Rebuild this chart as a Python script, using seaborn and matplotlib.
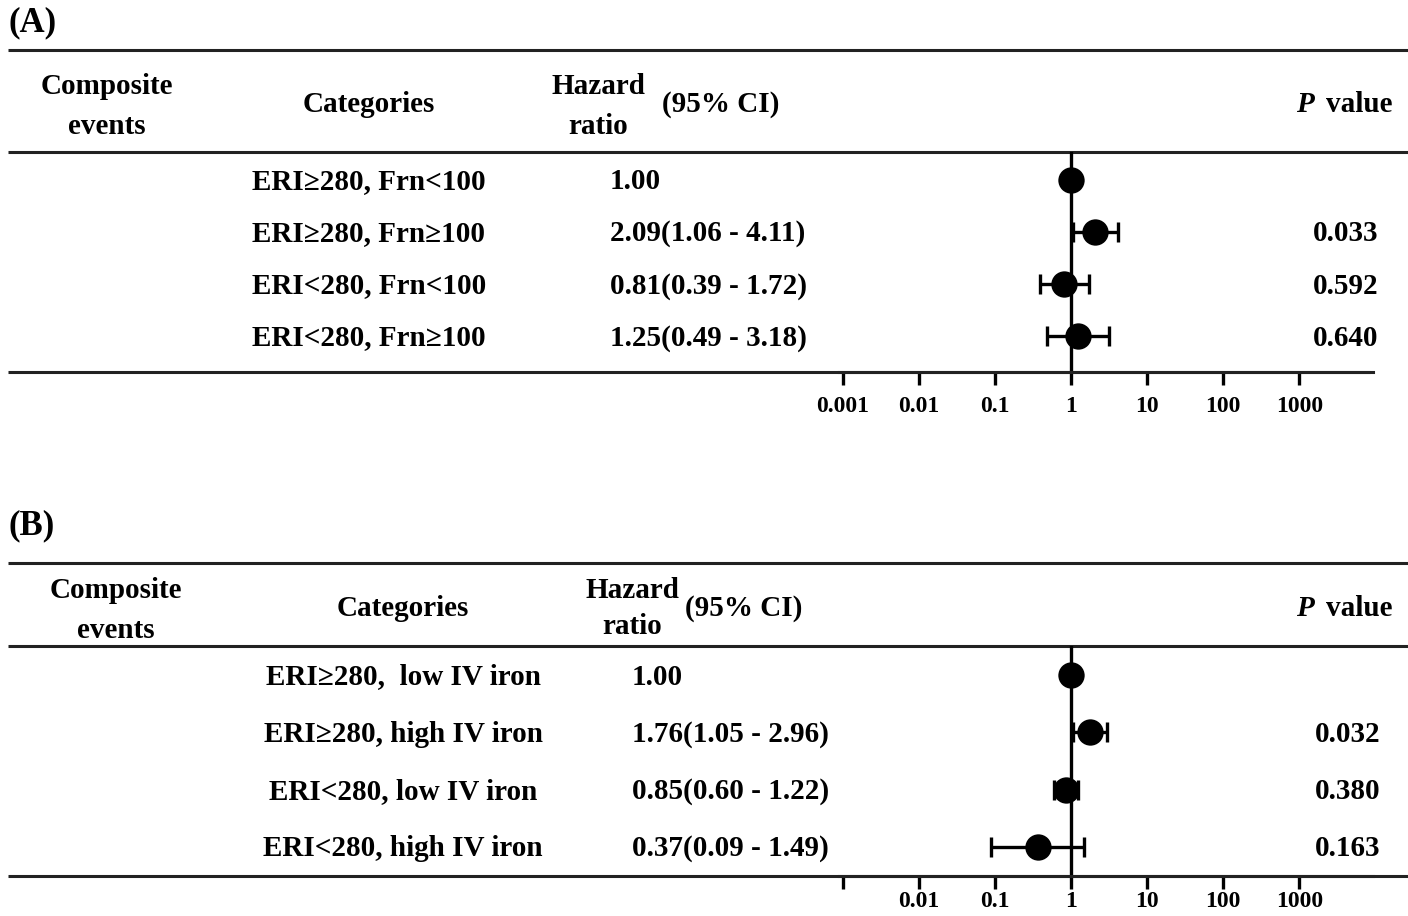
import numpy as np
import pandas as pd
import matplotlib
matplotlib.use("Agg")
import matplotlib.pyplot as plt
import matplotlib.transforms as mtransforms
import seaborn as sns

# ---------------- data ----------------
a_categories = ["ERI\u2265280, Frn<100", "ERI\u2265280, Frn\u2265100",
                "ERI<280, Frn<100", "ERI<280, Frn\u2265100"]
a_hr = [1.00, 2.09, 0.81, 1.25]
a_lo = [np.nan, 1.06, 0.39, 0.49]
a_hi = [np.nan, 4.11, 1.72, 3.18]
a_p = ["", "0.033", "0.592", "0.640"]

b_categories = ["ERI\u2265280,  low IV iron", "ERI\u2265280, high IV iron",
                "ERI<280, low IV iron", "ERI<280, high IV iron"]
b_hr = [1.00, 1.76, 0.85, 0.37]
b_lo = [np.nan, 1.05, 0.60, 0.09]
b_hi = [np.nan, 2.96, 1.22, 1.49]
b_p = ["", "0.032", "0.380", "0.163"]

tick_values = [0.001, 0.01, 0.1, 1, 10, 100, 1000]
a_tick_labels = ["0.001", "0.01", "0.1", "1", "10", "100", "1000"]
b_tick_labels = ["", "0.01", "0.1", "1", "10", "100", "1000"]

# ---------------- style ----------------
sns.set_theme(style="white")
plt.rcParams["font.family"] = ["Liberation Serif", "DejaVu Serif"]
plt.rcParams["font.weight"] = "bold"
plt.rcParams["text.color"] = "black"
plt.rcParams["xtick.color"] = "black"
plt.rcParams["axes.labelcolor"] = "black"

W, H = 1408, 916
fig = plt.figure(figsize=(W / 100, H / 100), dpi=100)
fig.patch.set_facecolor("white")

bg = fig.add_axes([0, 0, 1, 1])
bg.set_xlim(0, W)
bg.set_ylim(H, 0)
bg.axis("off")

FS = 21
LINE_C = "#222222"
LW = 2.2
DY = 2  # small downward nudge of text (px)


def px_axes(l, t, r, b):
    return fig.add_axes([l / W, 1 - b / H, (r - l) / W, (b - t) / H])


def panel(label, label_y, top_line, head_line, bottom_line, bottom_right,
          rows_top, rows_bottom, ylim, head, cat_x, hr_x, p_x,
          cats, hr, lo, hi, pv, tick_labels, tick_pad):
    bg.text(8, label_y, label, fontsize=25, fontweight="bold",
            ha="left", va="center")
    for yy, xr in [(top_line, W), (head_line, W), (bottom_line, bottom_right)]:
        bg.plot([8, xr], [yy, yy], color=LINE_C, lw=LW, solid_capstyle="butt")
    (cx, cy1, cy2), (catx, caty), (hx, hy1, hy2), (cix, ciy), py = head
    bg.text(cx, cy1 + DY, "Composite", fontsize=FS, ha="center", va="center")
    bg.text(cx, cy2 + DY, "events", fontsize=FS, ha="center", va="center")
    bg.text(catx, caty + DY, "Categories", fontsize=FS, ha="center", va="center")
    bg.text(hx, hy1 + DY, "Hazard", fontsize=FS, ha="center", va="center")
    bg.text(hx, hy2 + DY, "ratio", fontsize=FS, ha="center", va="center")
    bg.text(cix, ciy + DY, "(95% CI)", fontsize=FS, ha="left", va="center")
    bg.text(1314, py + DY, "P", fontsize=FS, ha="right", va="center",
            fontstyle="italic")
    bg.text(1393, py + DY, "value", fontsize=FS, ha="right", va="center")

    ax = px_axes(839, rows_top, 1373, rows_bottom)
    ax.set_facecolor("none")
    ax.set_xscale("log")
    ax.set_xlim(10 ** -3.05, 10 ** 3.97)
    ax.set_ylim(*ylim)

    df = pd.DataFrame({"row": np.arange(len(cats)), "hr": hr,
                       "lo": lo, "hi": hi})
    ax.axvline(1, color="black", lw=2.4, zorder=1)
    ci = df.dropna()
    ax.errorbar(ci["hr"], ci["row"],
                xerr=[ci["hr"] - ci["lo"], ci["hi"] - ci["hr"]],
                fmt="none", ecolor="black", elinewidth=2.4, capsize=7,
                capthick=2.4, zorder=2)
    sns.scatterplot(data=df, x="hr", y="row", ax=ax, color="black",
                    s=360, edgecolor="black", linewidth=0, zorder=3,
                    legend=False)

    for side in ["top", "right", "left"]:
        ax.spines[side].set_visible(False)
    ax.spines["bottom"].set_color(LINE_C)
    ax.spines["bottom"].set_linewidth(LW)
    ax.set_yticks([])
    ax.set_xticks(tick_values)
    ax.set_xticklabels(tick_labels)
    ax.minorticks_off()
    ax.tick_params(axis="x", direction="out", length=9, width=2.4,
                   color="black", labelcolor="black", labelsize=17,
                   pad=tick_pad, bottom=True)
    for t in ax.get_xticklabels():
        t.set_fontweight("bold")
    ax.set_xlabel("")
    ax.set_ylabel("")

    tr = mtransforms.blended_transform_factory(bg.transData, ax.transData)
    tr = tr + mtransforms.ScaledTranslation(0, -DY / 100, fig.dpi_scale_trans)
    for i in range(len(cats)):
        ax.text(cat_x, i, cats[i], transform=tr, fontsize=FS,
                ha="center", va="center", clip_on=False)
        if np.isnan(lo[i]):
            s = f"{hr[i]:.2f}"
        else:
            s = f"{hr[i]:.2f}({lo[i]:.2f} - {hi[i]:.2f})"
        ax.text(hr_x, i, s, transform=tr, fontsize=FS, ha="left",
                va="center", clip_on=False)
        if pv[i]:
            ax.text(p_x, i, pv[i], transform=tr, fontsize=FS, ha="right",
                    va="center", clip_on=False)
    return ax


panel("(A)", 23, 50, 152, 372, 1370, 152, 372, (3.692, -0.538),
      ((107, 85, 124), (369, 103), (598, 85, 124), (662, 103), 103),
      369, 610, 1378, a_categories, a_hr, a_lo, a_hi, a_p, a_tick_labels, 8)

panel("(B)", 526, 563, 646, 876, W, 646, 876, (3.506, -0.506),
      ((116, 589, 628), (403, 607), (632, 589, 625), (685, 607), 607),
      403, 632, 1380, b_categories, b_hr, b_lo, b_hi, b_p, b_tick_labels, 2)

fig.savefig("out.png", dpi=100)
